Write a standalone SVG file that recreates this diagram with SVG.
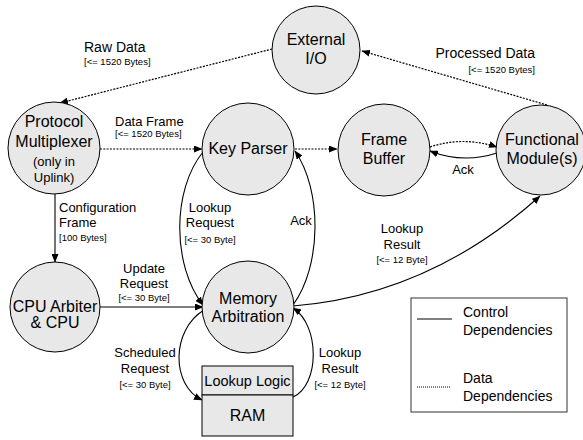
<svg xmlns="http://www.w3.org/2000/svg" width="583" height="440" viewBox="0 0 583 440">
<style>
text{font-family:"Liberation Sans",Arial,sans-serif;fill:#000}
.node circle,.node rect{fill:#e8e8e8;stroke:#000;stroke-width:1}
.nt{font-size:16px;text-anchor:middle}
.st{font-size:13px;text-anchor:middle}
.lb{font-size:13px}
.sm{font-size:9.5px}
.c{text-anchor:middle}
.e{text-anchor:end}
.ctl{fill:none;stroke:#000;stroke-width:1.1}
.dat{fill:none;stroke:#000;stroke-width:1.2;stroke-dasharray:2 1.3}
</style>
<defs>
<marker id="ah" markerWidth="9" markerHeight="7" refX="8" refY="3.5" orient="auto" markerUnits="userSpaceOnUse">
<path d="M0,0 L8.5,3.5 L0,7 z" fill="#000"/>
</marker>
</defs>
<g id="connectors">
<path class="dat" d="M272,49 L60,103" marker-end="url(#ah)"/>
<path class="dat" d="M547,105 L362,51" marker-end="url(#ah)"/>
<path class="dat" d="M100,149 L202,149" marker-end="url(#ah)"/>
<path class="dat" d="M295,149 L337,149" marker-end="url(#ah)"/>
<path class="dat" d="M430,147 Q463,136 497,147" marker-end="url(#ah)"/>
<path class="ctl" d="M497,153 Q463,164 430,151" marker-end="url(#ah)"/>
<path class="ctl" d="M55,194 L55,262" marker-end="url(#ah)"/>
<path class="ctl" d="M100,307 L203,307" marker-end="url(#ah)"/>
<path class="ctl" d="M203,152 C172,190 172,265 203,305" marker-end="url(#ah)"/>
<path class="ctl" d="M293,305 C322,265 322,190 295,151" marker-end="url(#ah)"/>
<path class="ctl" d="M293,306 Q430,295 540,196" marker-end="url(#ah)"/>
<path class="ctl" d="M204,310 C171,330 171,385 202,400" marker-end="url(#ah)"/>
<path class="ctl" d="M293,397 C320,385 320,325 293,308" marker-end="url(#ah)"/>
</g>
<g id="external-io" class="node">
<circle cx="316" cy="50" r="44"/>
<text class="nt" x="316" y="45">External</text>
<text class="nt" x="316" y="64">I/O</text>
</g>
<g id="protocol-multiplexer" class="node">
<circle cx="54" cy="148" r="46"/>
<text class="nt" x="54" y="127">Protocol</text>
<text class="nt" x="54" y="147">Multiplexer</text>
<text class="st" x="54" y="166">(only in</text>
<text class="st" x="54" y="182">Uplink)</text>
</g>
<g id="key-parser" class="node">
<circle cx="248" cy="149" r="46"/>
<text class="nt" x="248" y="154">Key Parser</text>
</g>
<g id="frame-buffer" class="node">
<circle cx="384" cy="150" r="46"/>
<text class="nt" x="384" y="145">Frame</text>
<text class="nt" x="384" y="164">Buffer</text>
</g>
<g id="functional-modules" class="node">
<circle cx="541" cy="150" r="45"/>
<text class="nt" x="542" y="145">Functional</text>
<text class="nt" x="542" y="164">Module(s)</text>
</g>
<g id="cpu-arbiter" class="node">
<circle cx="55" cy="307" r="45"/>
<text class="nt" x="55" y="312">CPU Arbiter</text>
<text class="nt" x="55" y="328">&amp; CPU</text>
</g>
<g id="memory-arbitration" class="node">
<circle cx="248" cy="307" r="46"/>
<text class="nt" x="248" y="304">Memory</text>
<text class="nt" x="248" y="322">Arbitration</text>
</g>
<g id="lookup-ram" class="node">
<rect x="202" y="366" width="91" height="29"/>
<rect x="202" y="395" width="91" height="41"/>
<text x="247.5" y="386" style="font-size:14.5px;text-anchor:middle">Lookup Logic</text>
<text class="nt" x="247.5" y="421">RAM</text>
</g>
<g id="labels">
<text class="lb" x="84" y="52" style="font-size:14px">Raw Data</text>
<text class="sm" x="84" y="65">[&lt;= 1520 Bytes]</text>
<text class="lb" x="115" y="126">Data Frame</text>
<text class="sm" x="115" y="137">[&lt;= 1520 Bytes]</text>
<text class="lb e" x="535" y="58" style="font-size:14px">Processed Data</text>
<text class="sm e" x="535" y="73">[&lt;= 1520 Bytes]</text>
<text class="lb" x="59" y="212">Configuration</text>
<text class="lb" x="59" y="227">Frame</text>
<text class="sm" x="59" y="241">[100 Bytes]</text>
<text class="lb c" x="210" y="212">Lookup</text>
<text class="lb c" x="210" y="227">Request</text>
<text class="sm c" x="210" y="243">[&lt;= 30 Byte]</text>
<text class="lb c" x="301" y="225">Ack</text>
<text class="lb c" x="463" y="174">Ack</text>
<text class="lb c" x="402" y="233">Lookup</text>
<text class="lb c" x="402" y="249">Result</text>
<text class="sm c" x="402" y="263">[&lt;= 12 Byte]</text>
<text class="lb c" x="144" y="273">Update</text>
<text class="lb c" x="144" y="288">Request</text>
<text class="sm c" x="144" y="301">[&lt;= 30 Byte]</text>
<text class="lb c" x="145" y="357">Scheduled</text>
<text class="lb c" x="145" y="373">Request</text>
<text class="sm c" x="145" y="388">[&lt;= 30 Byte]</text>
<text class="lb c" x="340" y="357">Lookup</text>
<text class="lb c" x="340" y="373">Result</text>
<text class="sm c" x="340" y="388">[&lt;= 12 Byte]</text>
</g>
<g id="legend">
<rect x="411" y="298" width="156" height="114" fill="#fff" stroke="#333" stroke-width="1"/>
<line x1="417" y1="319" x2="452" y2="319" stroke="#000" stroke-width="1.1"/>
<line x1="417" y1="387" x2="450" y2="387" stroke="#000" stroke-width="1" stroke-dasharray="1 1"/>
<text class="lb" x="463" y="317" style="font-size:14px">Control</text>
<text class="lb" x="463" y="335" style="font-size:14px">Dependencies</text>
<text class="lb" x="463" y="383" style="font-size:14px">Data</text>
<text class="lb" x="463" y="401" style="font-size:14px">Dependencies</text>
</g>
</svg>
